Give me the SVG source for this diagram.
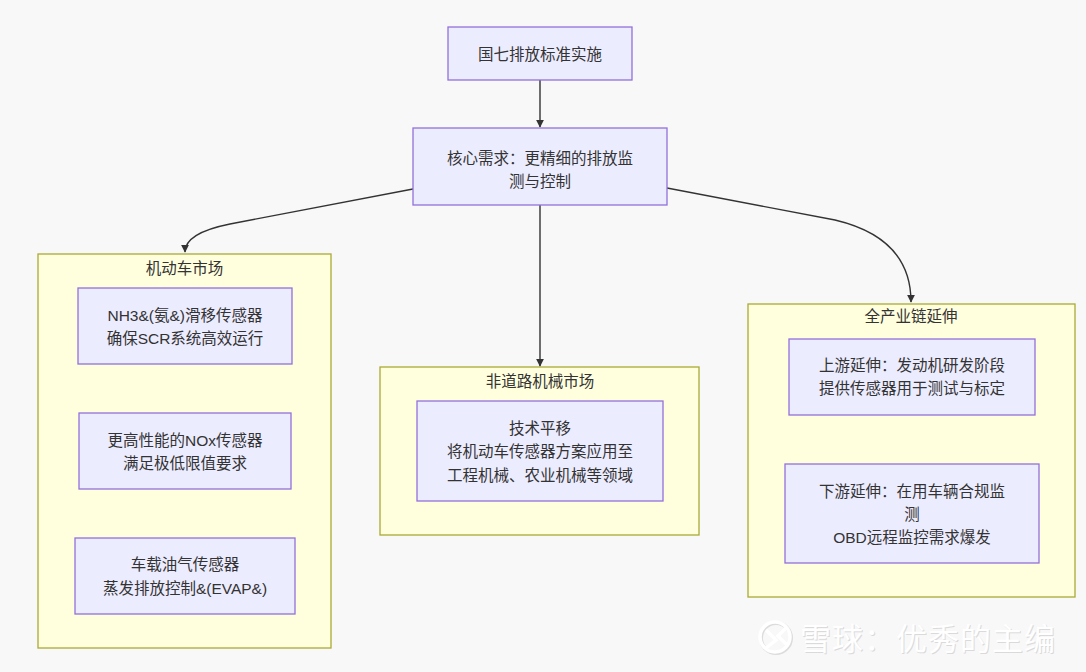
<svg xmlns="http://www.w3.org/2000/svg" width="1086" height="672" viewBox="0 0 1086 672">
<style>
.bg{fill:#f8f8f8}
.node rect{fill:#ECECFF;stroke:#9370DB;stroke-width:1.3}
.cluster rect{fill:#ffffde;stroke:#aaaa33;stroke-width:1.3}
text{font-family:"Liberation Sans","Noto Sans CJK SC",sans-serif;font-size:15.5px;fill:#333;text-anchor:middle;dominant-baseline:central}
.edge{fill:none;stroke:#333;stroke-width:1.4}
.wm{font-size:31px;letter-spacing:1px;text-anchor:start;dominant-baseline:auto}
</style>
<defs>
<marker id="arrow" viewBox="0 0 10 10" refX="9" refY="5" markerWidth="8" markerHeight="8" markerUnits="userSpaceOnUse" orient="auto">
<path d="M0,0 L10,5 L0,10 z" fill="#333"/>
</marker>
</defs>
<rect class="bg" x="0" y="0" width="1086" height="672"/>

<g id="cluster-motor" class="cluster">
<rect x="38" y="254" width="293" height="394"/>
<text x="184.5" y="268">机动车市场</text>
</g>
<g id="cluster-offroad" class="cluster">
<rect x="380" y="367" width="319" height="168"/>
<text x="540" y="381">非道路机械市场</text>
</g>
<g id="cluster-chain" class="cluster">
<rect x="748" y="304" width="327" height="293"/>
<text x="911" y="316">全产业链延伸</text>
</g>

<g id="connectors">
<path class="edge" d="M540,80 L540,127" marker-end="url(#arrow)"/>
<path class="edge" d="M413,189 L230,224 Q185,233 185,252" marker-end="url(#arrow)"/>
<path class="edge" d="M540,205 L540,366" marker-end="url(#arrow)"/>
<path class="edge" d="M667,188 L835,220 Q911,238 911,302" marker-end="url(#arrow)"/>
</g>

<g id="n-guoqi" class="node">
<rect x="448" y="27" width="184" height="53"/>
<text x="540" y="54">国七排放标准实施</text>
</g>
<g id="n-core" class="node">
<rect x="413" y="128" width="254" height="77"/>
<text x="540" y="158">核心需求：更精细的排放监</text>
<text x="540" y="181">测与控制</text>
</g>
<g id="n-nh3" class="node">
<rect x="78" y="288" width="214" height="76"/>
<text x="185" y="315">NH3&amp;(氨&amp;)滑移传感器</text>
<text x="185" y="338">确保SCR系统高效运行</text>
</g>
<g id="n-nox" class="node">
<rect x="79" y="413" width="212" height="76"/>
<text x="185" y="440">更高性能的NOx传感器</text>
<text x="185" y="463">满足极低限值要求</text>
</g>
<g id="n-evap" class="node">
<rect x="75" y="538" width="220" height="76"/>
<text x="185" y="564">车载油气传感器</text>
<text x="185" y="588">蒸发排放控制&amp;(EVAP&amp;)</text>
</g>
<g id="n-tech" class="node">
<rect x="417" y="401" width="246" height="100"/>
<text x="540" y="428">技术平移</text>
<text x="540" y="451">将机动车传感器方案应用至</text>
<text x="540" y="475">工程机械、农业机械等领域</text>
</g>
<g id="n-up" class="node">
<rect x="789" y="339" width="246" height="76"/>
<text x="912" y="365">上游延伸：发动机研发阶段</text>
<text x="912" y="388">提供传感器用于测试与标定</text>
</g>
<g id="n-down" class="node">
<rect x="785" y="464" width="254" height="99"/>
<text x="912" y="491">下游延伸：在用车辆合规监</text>
<text x="912" y="514">测</text>
<text x="912" y="537">OBD远程监控需求爆发</text>
</g>

<g id="watermark">
<circle cx="776" cy="638" r="15" fill="none" stroke="#dcdcdc" stroke-width="4"/>
<circle cx="775" cy="637" r="15" fill="none" stroke="#ffffff" stroke-width="3.5"/>
<path d="M766,630 L776,640 L766,648 M786,628 L778,636 L788,646" fill="none" stroke="#ffffff" stroke-width="3.5"/>
<text class="wm" x="801" y="651" style="fill:#dadada">雪球：优秀的主编</text>
<text class="wm" x="800" y="650" style="fill:#ffffff">雪球：优秀的主编</text>
</g>
</svg>
